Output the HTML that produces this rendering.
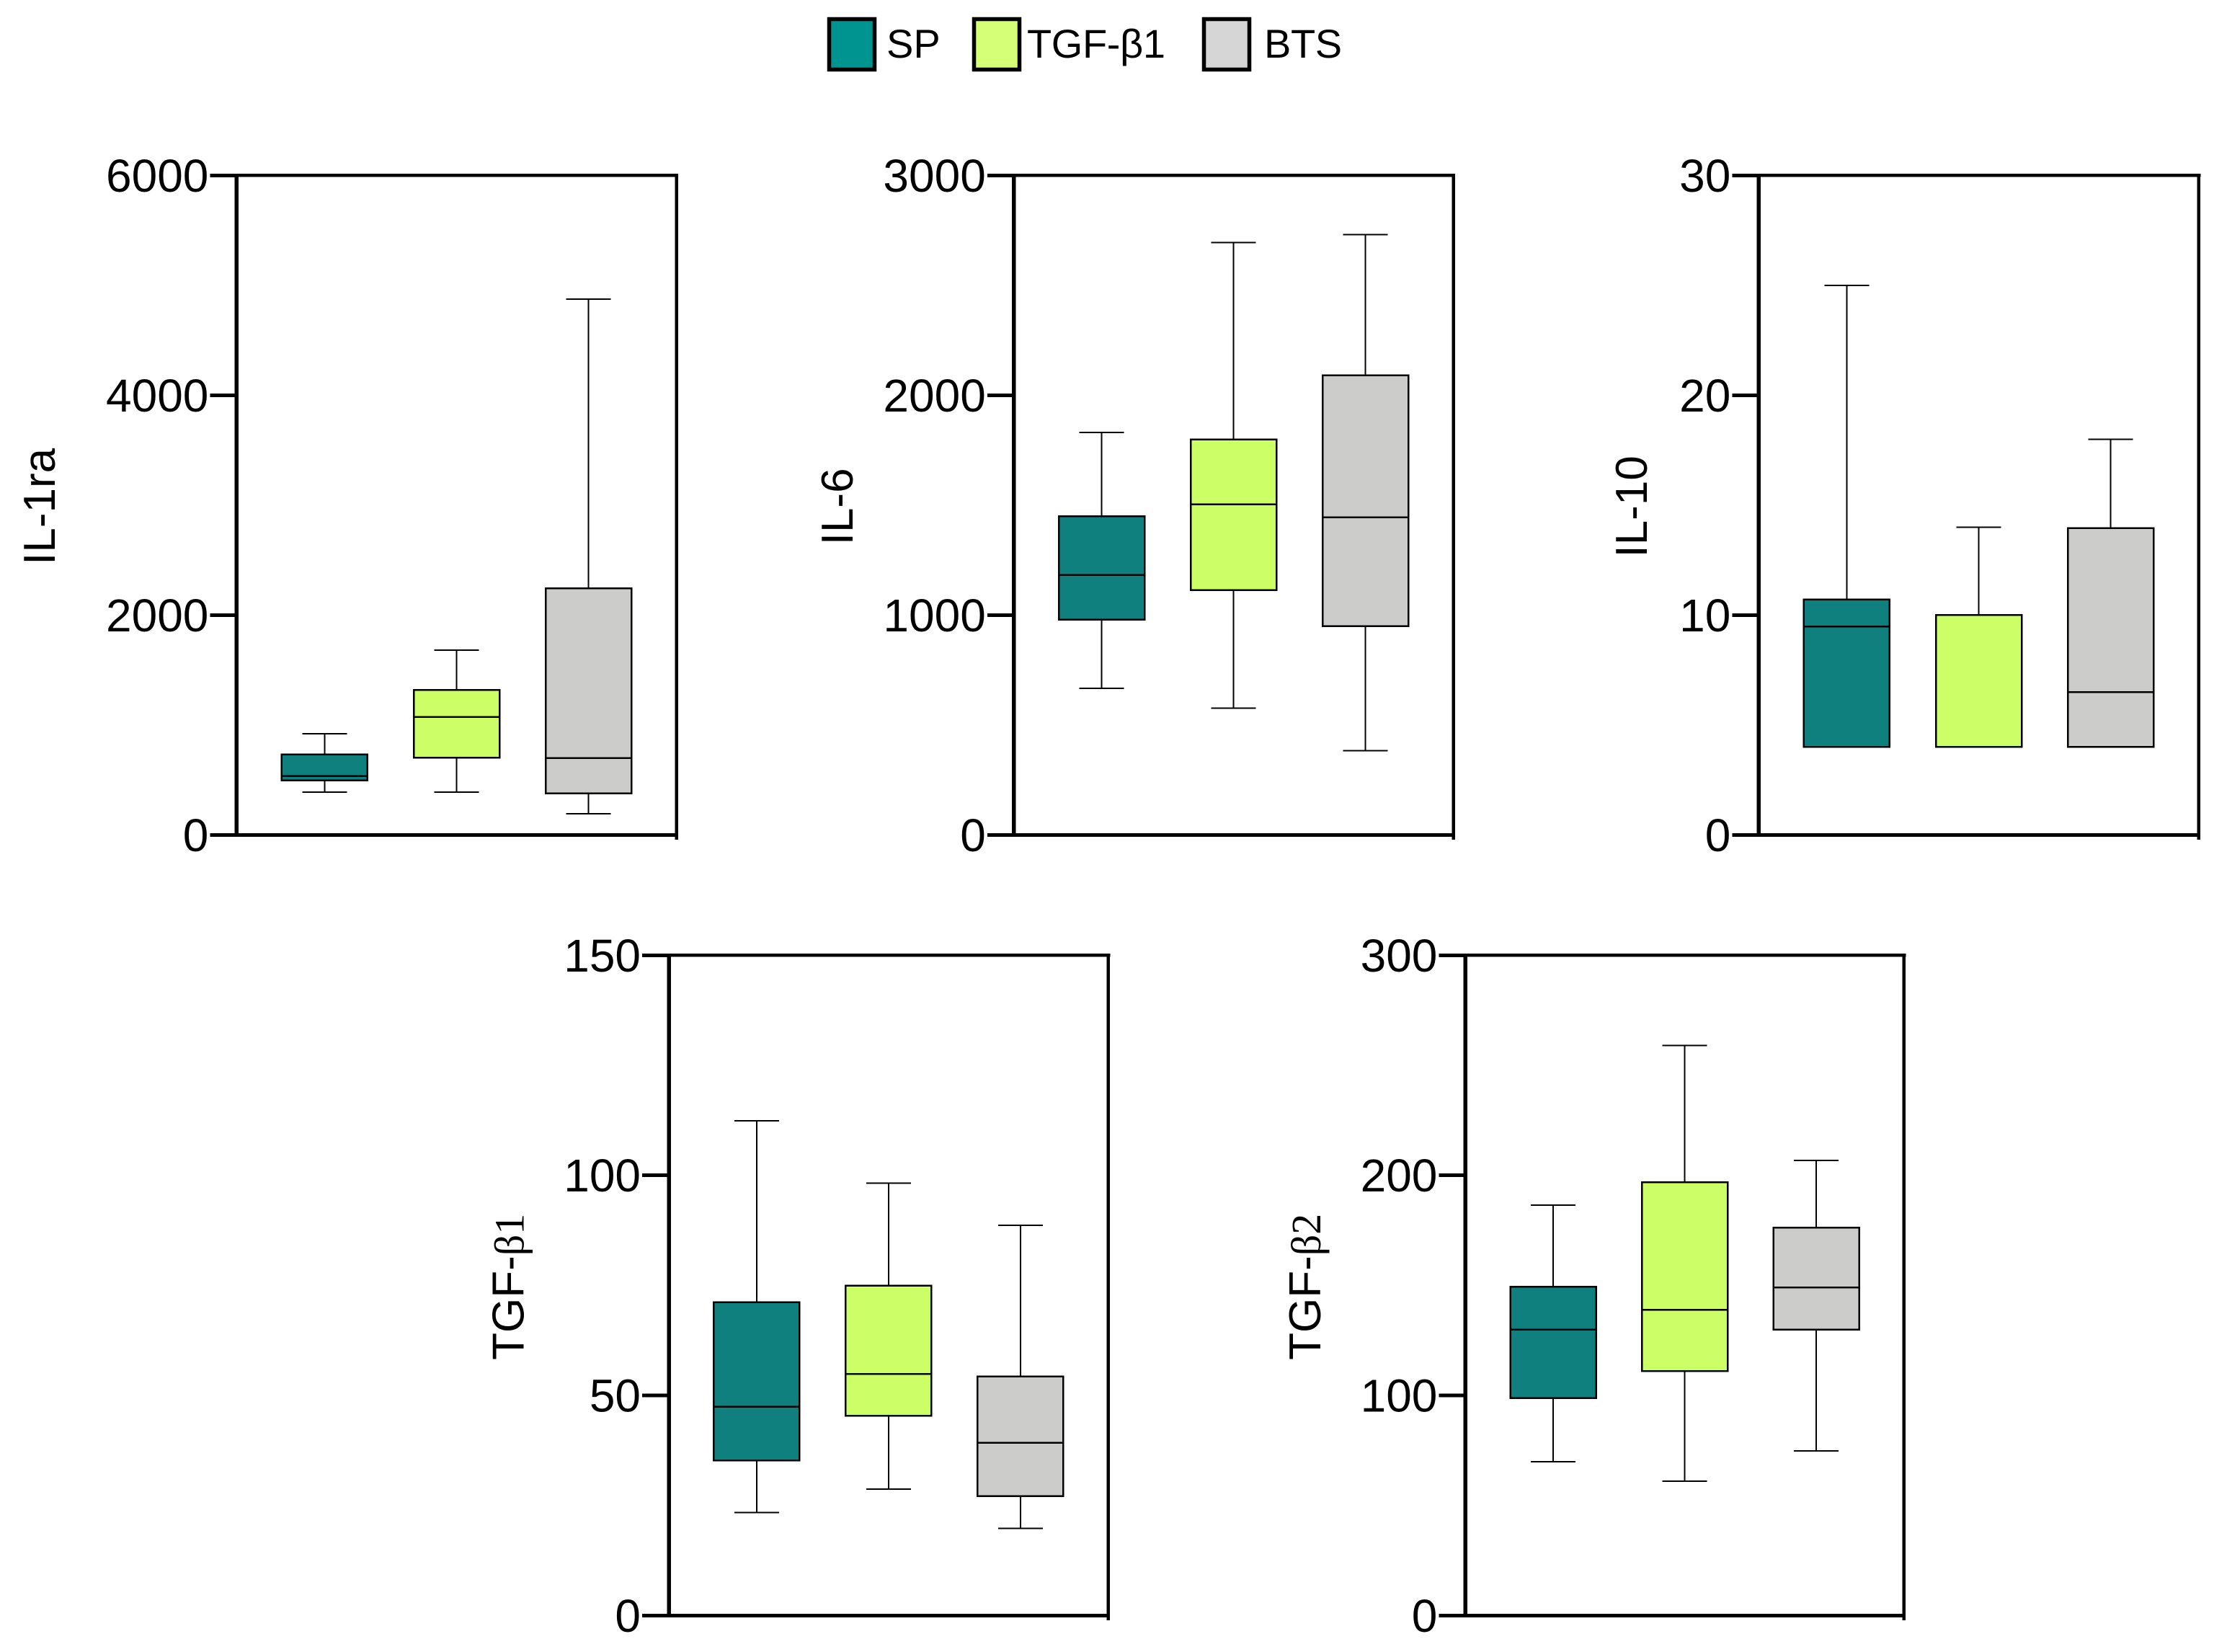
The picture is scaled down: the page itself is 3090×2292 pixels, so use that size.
<!DOCTYPE html>
<html lang="en">
<head>
<meta charset="utf-8">
<title>Cytokine box plots</title>
<style>
  html, body { margin: 0; padding: 0; background: #ffffff; }
  body { width: 3090px; height: 2292px; overflow: hidden; }
  svg { display: block; }
  text { font-family: "Liberation Sans", Arial, sans-serif; fill: #000000; }
</style>
</head>
<body>
<svg id="figure" xmlns="http://www.w3.org/2000/svg" width="3090" height="2292" viewBox="0 0 3090 2292">
  <rect x="0" y="0" width="3090" height="2292" fill="#ffffff"/>
  <g id="legend">
    <g>
      <rect x="1150.5" y="26.5" width="63" height="70" fill="#009490" stroke="#000" stroke-width="5.5"/>
      <text x="1230" y="80" font-size="56">SP</text>
    </g>
    <g>
      <rect x="1351.5" y="26.5" width="63" height="70" fill="#D4FF77" stroke="#000" stroke-width="5.5"/>
      <text x="1425" y="80" font-size="56" letter-spacing="-0.4">TGF-β1</text>
    </g>
    <g>
      <rect x="1670.5" y="26.5" width="63" height="70" fill="#D6D6D6" stroke="#000" stroke-width="5.5"/>
      <text x="1754" y="80" font-size="56" letter-spacing="-0.4">BTS</text>
    </g>
  </g>
  <g id="panels"></g>
</svg>
<script>
// Categories drawn in every panel
const categories = ['SP', 'TGF-β1', 'BTS'];

// IL-1ra
const il1raTicks = [0, 2000, 4000, 6000];
const il1raWhiskerHigh = [920, 1682, 4874];
const il1raQ3 = [732, 1318, 2243];
const il1raMedian = [535, 1071, 699];
const il1raQ1 = [494, 703, 377];
const il1raWhiskerLow = [389, 389, 192];

// IL-6
const il6Ticks = [0, 1000, 2000, 3000];
const il6WhiskerHigh = [1831, 2695, 2730];
const il6Q3 = [1450, 1799, 2090];
const il6Median = [1182, 1504, 1444];
const il6Q1 = [979, 1113, 950];
const il6WhiskerLow = [667, 577, 383];

// IL-10
const il10Ticks = [0, 10, 20, 30];
const il10WhiskerHigh = [25, 14, 18];
const il10Q3 = [10.7, 10, 13.95];
const il10Median = [9.48, 4, 6.5];
const il10Q1 = [4, 4, 4];
const il10WhiskerLow = [4, 4, 4];

// TGF-beta1
const tgfb1Ticks = [0, 50, 100, 150];
const tgfb1WhiskerHigh = [112.4, 98.2, 88.6];
const tgfb1Q3 = [71.2, 74.9, 54.3];
const tgfb1Median = [47.4, 54.9, 39.2];
const tgfb1Q1 = [35.2, 45.4, 27.1];
const tgfb1WhiskerLow = [23.4, 28.7, 19.8];

// TGF-beta2
const tgfb2Ticks = [0, 100, 200, 300];
const tgfb2WhiskerHigh = [186.4, 259, 206.7];
const tgfb2Q3 = [149.3, 196.8, 176.2];
const tgfb2Median = [129.8, 138.9, 149.1];
const tgfb2Q1 = [98.7, 111.1, 129.8];
const tgfb2WhiskerLow = [69.9, 61, 74.8];

// Styling and layout
const boxColors = ['#10807F', '#CCFF66', '#CCCCCA'];
const categoryFractions = [0.2, 0.5, 0.8];
const BOX_WIDTH = 119;
const CAP_WIDTH = 62;
const SVG_NS = 'http://www.w3.org/2000/svg';

const panels = [
  { key: 'il-1ra', title: 'IL-1ra', left: 328.4, right: 938.7, top: 243.4, bottom: 1158.3, titleX: 76, ticks: il1raTicks, hi: il1raWhiskerHigh, q3: il1raQ3, med: il1raMedian, q1: il1raQ1, lo: il1raWhiskerLow },
  { key: 'il-6', title: 'IL-6', left: 1406.8, right: 2016.5, top: 243.4, bottom: 1158.3, titleX: 1183, ticks: il6Ticks, hi: il6WhiskerHigh, q3: il6Q3, med: il6Median, q1: il6Q1, lo: il6WhiskerLow },
  { key: 'il-10', title: 'IL-10', left: 2440.3, right: 3050.8, top: 243.4, bottom: 1158.3, titleX: 2285, ticks: il10Ticks, hi: il10WhiskerHigh, q3: il10Q3, med: il10Median, q1: il10Q1, lo: il10WhiskerLow },
  { key: 'tgf-beta1', title: 'TGF-', suffix: 'β1', left: 928, right: 1537.8, top: 1325.3, bottom: 2241.3, titleX: 726.5, ticks: tgfb1Ticks, hi: tgfb1WhiskerHigh, q3: tgfb1Q3, med: tgfb1Median, q1: tgfb1Q1, lo: tgfb1WhiskerLow },
  { key: 'tgf-beta2', title: 'TGF-', suffix: 'β2', left: 2033.4, right: 2641.8, top: 1325.3, bottom: 2241.3, titleX: 1832, ticks: tgfb2Ticks, hi: tgfb2WhiskerHigh, q3: tgfb2Q3, med: tgfb2Median, q1: tgfb2Q1, lo: tgfb2WhiskerLow }
];

function svgEl(tag, attrs, parent) {
  const el = document.createElementNS(SVG_NS, tag);
  for (const k in attrs) el.setAttribute(k, attrs[k]);
  parent.appendChild(el);
  return el;
}

function yScale(panel) {
  const domainMax = panel.ticks[panel.ticks.length - 1];
  return function (v) {
    return panel.bottom - (v / domainMax) * (panel.bottom - panel.top);
  };
}

function xScale(panel) {
  return function (i) {
    return panel.left + categoryFractions[i] * (panel.right - panel.left);
  };
}

function drawPanel(panel) {
  const root = document.getElementById('panels');
  const y = yScale(panel);
  const x = xScale(panel);

  const g = svgEl('g', {}, root);
  
  

  // Boxes and whiskers
  categories.forEach(function (cat, i) {
    const slug = cat.toLowerCase().replace('β', 'beta').replace(/[^a-z0-9]+/g, '-');
    const cx = x(i);
    const group = svgEl('g', { 'shape-rendering': 'crispEdges' }, g);
    
    

    const stem = svgEl('line', { x1: cx, x2: cx, y1: y(panel.hi[i]), y2: y(panel.lo[i]), stroke: '#000', 'stroke-width': 2 }, group);
    
    

    const capHigh = svgEl('line', { x1: cx - CAP_WIDTH / 2, x2: cx + CAP_WIDTH / 2, y1: y(panel.hi[i]), y2: y(panel.hi[i]), stroke: '#000', 'stroke-width': 2 }, group);
    
    

    const capLow = svgEl('line', { x1: cx - CAP_WIDTH / 2, x2: cx + CAP_WIDTH / 2, y1: y(panel.lo[i]), y2: y(panel.lo[i]), stroke: '#000', 'stroke-width': 2 }, group);
    
    

    const box = svgEl('rect', { x: cx - BOX_WIDTH / 2, y: y(panel.q3[i]), width: BOX_WIDTH, height: y(panel.q1[i]) - y(panel.q3[i]), fill: boxColors[i], stroke: '#000', 'stroke-width': 2.5 }, group);
    
    

    const median = svgEl('line', { x1: cx - BOX_WIDTH / 2, x2: cx + BOX_WIDTH / 2, y1: y(panel.med[i]), y2: y(panel.med[i]), stroke: '#000', 'stroke-width': 2.5 }, group);
    
    
  });

  // Frame
  const frame = svgEl('g', { stroke: '#000', 'shape-rendering': 'crispEdges' }, g);
  
  

  const topLine = svgEl('line', { x1: panel.left, x2: panel.right + 2.5, y1: panel.top, y2: panel.top, 'stroke-width': 4.5 }, frame);
  
  

  const rightLine = svgEl('line', { x1: panel.right, x2: panel.right, y1: panel.top, y2: panel.bottom + 6.5, 'stroke-width': 4.5 }, frame);
  
  

  const bottomLine = svgEl('line', { x1: panel.left, x2: panel.right, y1: panel.bottom, y2: panel.bottom, 'stroke-width': 5 }, frame);
  
  

  const leftLine = svgEl('line', { x1: panel.left, x2: panel.left, y1: panel.top, y2: panel.bottom, 'stroke-width': 5.5 }, frame);
  
  

  // Ticks and labels
  panel.ticks.forEach(function (t) {
    const ty = y(t);
    const tick = svgEl('line', { x1: panel.left - 37, x2: panel.left, y1: ty, y2: ty, stroke: '#000', 'stroke-width': 5, 'shape-rendering': 'crispEdges' }, g);
    
    

    const label = svgEl('text', { x: panel.left - 39, y: ty + 22.5, 'text-anchor': 'end', 'font-size': 64 }, g);
    
    
    label.textContent = String(t);
  });

  // Rotated axis title
  const midY = (panel.top + panel.bottom) / 2 + 2;
  const title = svgEl('text', { x: panel.titleX, y: midY, transform: 'rotate(-90 ' + panel.titleX + ' ' + midY + ')', 'text-anchor': 'middle', 'font-size': 62 }, g);
  
  
  title.appendChild(document.createTextNode(panel.title));
  if (panel.suffix) {
    const serif = svgEl('tspan', { 'font-size': 58, style: 'font-family:"Liberation Serif",serif' }, title);
    serif.textContent = panel.suffix;
  }
}

panels.forEach(drawPanel);
</script>
</body>
</html>
